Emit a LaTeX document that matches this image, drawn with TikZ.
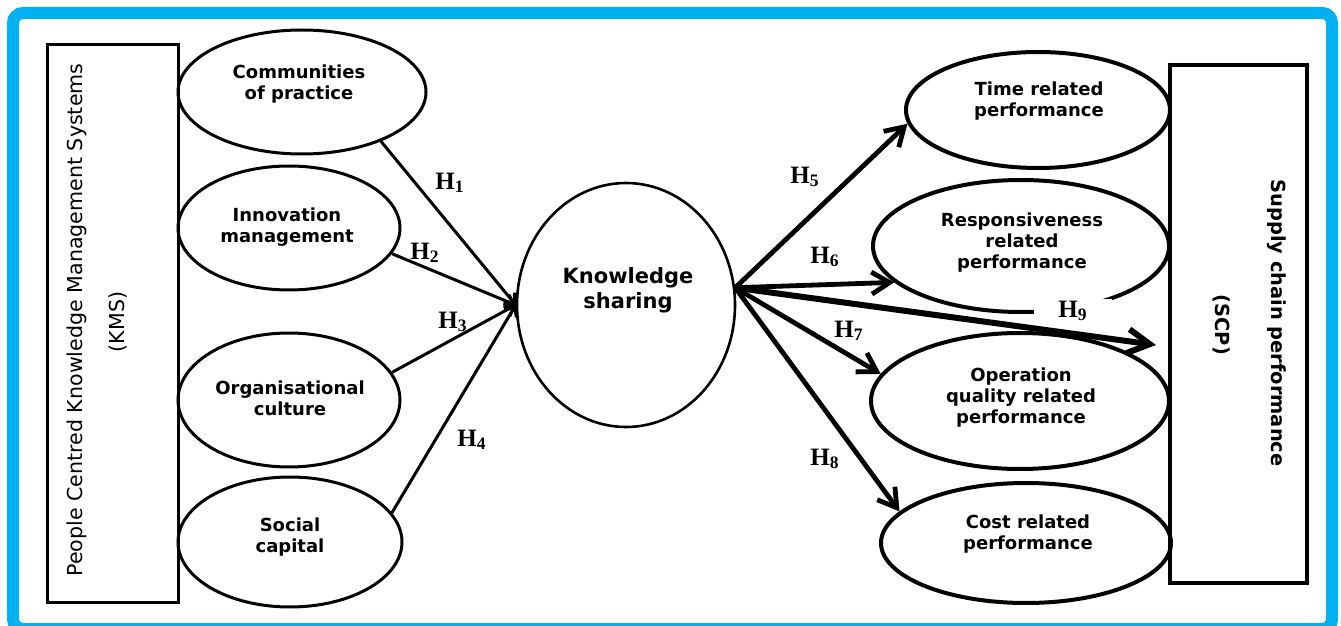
\documentclass[tikz,border=0pt]{standalone}
\usepackage{fontspec}
\setmainfont{DejaVu Sans}
\newfontfamily\hfont{Liberation Serif}
\usetikzlibrary{shapes.geometric,arrows.meta}
\definecolor{frameblue}{RGB}{0,176,240}

\begin{document}
\begin{tikzpicture}[x=0.5pt,y=-0.5pt,
  oval/.style={draw, ellipse, line width=1.5pt, inner sep=0pt},
  roval/.style={draw, ellipse, line width=2pt, inner sep=0pt},
  lbl/.style={font=\bfseries\fontsize{9}{10.5}\selectfont, align=center, inner sep=0pt},
  hyp/.style={font=\hfont\bfseries\fontsize{12.5}{14}\selectfont, inner sep=0pt},
  sidetext/.style={font=\fontsize{10.3}{12}\selectfont, inner sep=0pt},
  inarrow/.style={line width=1.5pt, -{Straight Barb[length=4pt,width=7pt]}},
  outarrow/.style={line width=2.4pt, -{Straight Barb[length=9pt,width=11pt]}},
]
\useasboundingbox (0,0) rectangle (1341,626);
\clip (0,0) rectangle (1341,626);

% outer frame
\draw[frameblue, line width=6pt, rounded corners=5pt] (13,13) rectangle (1332,629);

% left block: people centred KMS
\node[draw, line width=1.5pt, minimum width=65.5pt, minimum height=278.5pt, inner sep=0pt] (kms) at (112.5,323.5) {};
\node[sidetext, rotate=90] (kmsA) at (77,320) {People Centred Knowledge Management Systems};
\node[sidetext, rotate=90] (kmsB) at (118,322) {(KMS)};

% KMS dimensions
\node[oval, minimum width=124pt, minimum height=62pt] (comm) at (302,92) {};
\node[oval, minimum width=111pt, minimum height=62pt] (innov) at (289,228) {};
\node[oval, minimum width=111pt, minimum height=67pt] (org) at (289,400) {};
\node[oval, minimum width=112pt, minimum height=65pt] (soc) at (290,542) {};
\node[lbl] (commT) at (299,84) {Communities\\of practice};
\node[lbl] (innovT) at (287,227) {Innovation\\management};
\node[lbl] (orgT) at (290,398) {Organisational\\culture};
\node[lbl] (socT) at (290,537) {Social\\capital};

% mediator
\node[draw, ellipse, line width=1.3pt, inner sep=0pt, minimum width=109pt, minimum height=122pt] (ks) at (626,305) {};
\node[lbl, font=\bfseries\fontsize{10.5}{12.5}\selectfont] (ksT) at (628,290) {Knowledge\\sharing};
\coordinate (hub) at (ks.9);

% supply chain performance dimensions
\node[roval, minimum width=132pt, minimum height=58pt] (time) at (1038,110) {};
\node[roval, minimum width=148pt, minimum height=66pt] (resp) at (1021,246) {};
\node[roval, minimum width=149pt, minimum height=68pt] (op) at (1020,401) {};
\node[roval, minimum width=145pt, minimum height=60pt] (cost) at (1026,543) {};
\node[lbl] (timeT) at (1039,101) {Time related\\performance};
\node[lbl] (respT) at (1022,243) {Responsiveness\\related\\performance};
\node[lbl] (opT) at (1021,398) {Operation\\quality related\\performance};
\node[lbl] (costT) at (1028,534) {Cost related\\performance};

% right block: supply chain performance
\node[draw, line width=2pt, minimum width=68.5pt, minimum height=259pt, inner sep=0pt] (scp) at (1238.5,324) {};
\node[lbl, font=\bfseries\fontsize{9.7}{11}\selectfont, rotate=-90] (scpA) at (1277,323) {Supply chain performance};
\node[lbl, font=\bfseries\fontsize{9.7}{11}\selectfont, rotate=-90] (scpB) at (1222,325) {(SCP)};

% hypotheses H1-H4
\draw[inarrow] (comm.-32) -- (ks.west);
\draw[inarrow] (innov.-14) -- (ks.west);
\draw[inarrow] (org.15) -- (ks.west);
\draw[inarrow] (soc.16) -- (ks.west);
\node[hyp] (h1) at (450,183) {H\textsubscript{1}};
\node[hyp] (h2) at (425,253) {H\textsubscript{2}};
\node[hyp] (h3) at (453,322) {H\textsubscript{3}};
\node[hyp] (h4) at (472,440) {H\textsubscript{4}};

% hypotheses H5-H9
\node[hyp, fill=white, minimum width=39pt, minimum height=12pt] (h9) at (1073,311) {H\textsubscript{9}};
\draw[outarrow] (hub) -- (time.186);
\draw[outarrow] (hub) -- (resp.196);
\draw[outarrow] (hub) -- (op.169);
\draw[outarrow] (hub) -- (cost.166);
\draw[line width=3pt, -{Straight Barb[length=11pt,width=12pt]}] (hub) -- ([xshift=-6pt,yshift=-10.5pt]scp.west);
\node[hyp] (h5) at (805,177) {H\textsubscript{5}};
\node[hyp] (h6) at (825,257) {H\textsubscript{6}};
\node[hyp] (h7) at (849,331) {H\textsubscript{7}};
\node[hyp] (h8) at (825,459) {H\textsubscript{8}};
\end{tikzpicture}
\end{document}
